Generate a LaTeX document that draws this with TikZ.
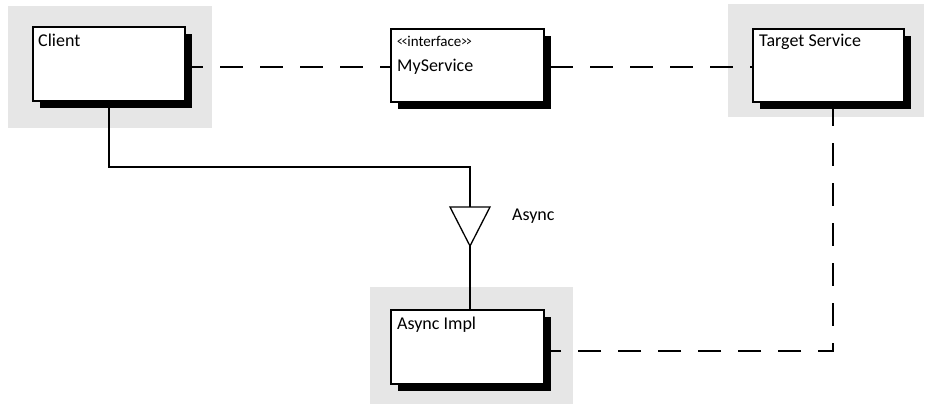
\documentclass[tikz,border=0pt]{standalone}
\usepackage{fontspec}
\setmainfont{Carlito}
\usetikzlibrary{shadows}
\pgfdeclarelayer{back}
\pgfdeclarelayer{mid}
\pgfsetlayers{back,mid,main}
\definecolor{panel}{RGB}{230,230,230}
\tikzset{
  umlbox/.style={draw, line width=2pt, fill=white, inner sep=0pt, anchor=north west,
    general shadow={fill=black, shadow xshift=7pt, shadow yshift=-7pt}},
  boxtext/.style={anchor=base west, inner sep=0pt, font=\fontsize{18}{20}\selectfont},
  stereo/.style={anchor=base west, inner sep=0pt, font=\fontsize{15}{17}\selectfont},
  panelbg/.style={fill=panel, draw=none},
  dashline/.style={line width=2pt, dash pattern=on 23pt off 17pt},
  solidline/.style={line width=2pt},
  triline/.style={line width=1.3pt, fill=white, line join=miter},
}
\begin{document}
\begin{tikzpicture}[x=1pt, y=-1pt]
\useasboundingbox (0,0) rectangle (925,404);
% boxes
\node[umlbox, minimum width=152pt, minimum height=74pt] (client) at (32,26) {};
\node[umlbox, minimum width=153pt, minimum height=73pt] (svc) at (390,28) {};
\node[umlbox, minimum width=151pt, minimum height=73pt] (target) at (752,28) {};
\node[umlbox, minimum width=153pt, minimum height=74pt] (impl) at (390,309) {};
% texts
\node[boxtext] (tclient) at (38,47) {Client};
\node[stereo] (tstereo) at (397,46) {\scalebox{0.75}[1]{<}\kern-1pt\scalebox{0.75}[1]{<}interface\scalebox{0.75}[1]{>}\kern-1pt\scalebox{0.75}[1]{>}};
\node[boxtext] (tsvc) at (397,71) {MyService};
\node[boxtext] (ttarget) at (759,47) {Target Service};
\node[boxtext] (timpl) at (397,329) {Async Impl};
\node[boxtext] (tasync) at (512,220) {Async};
% helper coordinates
\coordinate (rowA) at (0,67);
\coordinate (bend) at (470,167);
\coordinate (tritop) at (470,207);
\coordinate (triapex) at (470,246);
\coordinate (corner) at (833,351);
\begin{pgfonlayer}{back}
  \fill[panelbg] (8,6) rectangle (212,128);
  \fill[panelbg] (728,4) rectangle (924,117);
  \fill[panelbg] (370,287) rectangle (573,404);
\end{pgfonlayer}
\begin{pgfonlayer}{mid}
  \draw[dashline, dash phase=6pt] (client.east |- rowA) -- (svc.west |- rowA);
  \draw[dashline, dash phase=-5pt] (svc.east |- rowA) -- (target.west |- rowA);
  \draw[solidline] (client.south) |- (bend) -- (tritop);
  \draw[solidline] (triapex) -- (triapex |- impl.north);
  \draw[dashline] (target.south -| corner) -- (corner) -- (corner -| impl.east);
\end{pgfonlayer}
\draw[triline] (tritop) ++(-20,0) -- ++(40,0) -- (triapex) -- cycle;
\end{tikzpicture}
\end{document}
